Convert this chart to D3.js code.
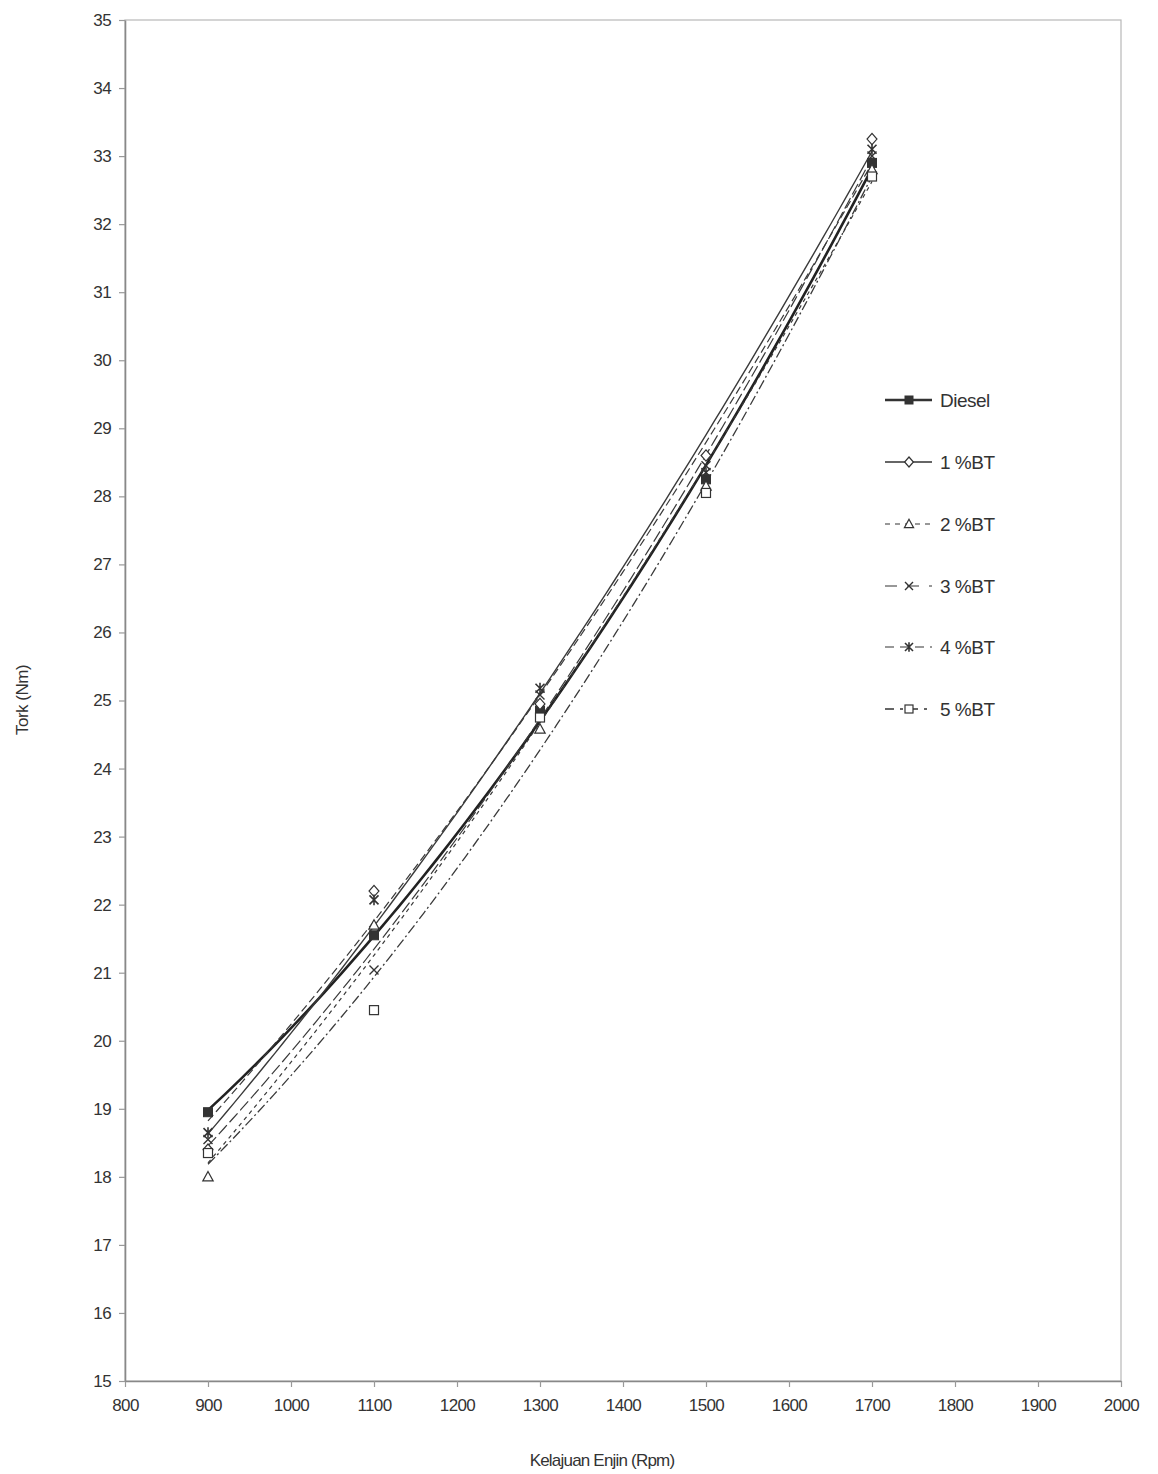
<!DOCTYPE html>
<html>
<head>
<meta charset="utf-8">
<script src="https://cdn.jsdelivr.net/npm/d3@7"></script>
<style>
  html, body { margin: 0; padding: 0; background: #fff; }
  svg { display: block; }
  text { font-family: "Liberation Sans", Arial, sans-serif; fill: #333; }
</style>
</head>
<body>
<svg id="chart" width="1158" height="1474"></svg>
<script>
// ---- data ----
const rpm = [900, 1100, 1300, 1500, 1700];
const seriesNames = ["Diesel", "1 %BT", "2 %BT", "3 %BT", "4 %BT", "5 %BT"];
const diesel = [18.95, 21.55, 24.85, 28.25, 32.9];
const bt1 = [18.4, 22.2, 24.95, 28.6, 33.25];
const bt2 = [18.0, 21.7, 24.58, 28.15, 32.8];
const bt3 = [18.55, 21.04, 25.08, 28.45, 33.0];
const bt4 = [18.65, 22.07, 25.18, 28.35, 33.1];
const bt5 = [18.35, 20.45, 24.75, 28.05, 32.7];
const xTicks = [800, 900, 1000, 1100, 1200, 1300, 1400, 1500, 1600, 1700, 1800, 1900, 2000];
const yTicks = [15, 16, 17, 18, 19, 20, 21, 22, 23, 24, 25, 26, 27, 28, 29, 30, 31, 32, 33, 34, 35];

const seriesValues = [diesel, bt1, bt2, bt3, bt4, bt5];
const styles = [
  { w: 2.6, dash: null, marker: "fsquare" },
  { w: 1.4, dash: null, marker: "diamond" },
  { w: 1.2, dash: "4,4", marker: "triangle" },
  { w: 1.2, dash: "12,4", marker: "x" },
  { w: 1.2, dash: "8,4", marker: "star" },
  { w: 1.3, dash: "10,3,2,3", marker: "square" }
];

const svg = d3.select("#chart");
const m = { left: 125, right: 1121, top: 20, bottom: 1381 };
const x = d3.scaleLinear().domain([800, 2000]).range([m.left, m.right]);
const y = d3.scaleLinear().domain([15, 35]).range([m.bottom, m.top]);

// plot frame
svg.append("rect").attr("x", m.left).attr("y", m.top)
  .attr("width", m.right - m.left).attr("height", m.bottom - m.top)
  .attr("fill", "none").attr("stroke", "#b8b8b8").attr("stroke-width", 1.2);

// axes
const xAxis = svg.append("g").attr("transform", `translate(0,${m.bottom})`)
  .call(d3.axisBottom(x).tickValues(xTicks).tickFormat(d3.format("d")).tickSize(6).tickSizeOuter(0).tickPadding(12));
const yAxis = svg.append("g").attr("transform", `translate(${m.left},0)`)
  .call(d3.axisLeft(y).tickValues(yTicks).tickFormat(d3.format("d")).tickSize(6).tickSizeOuter(0).tickPadding(8));
[xAxis, yAxis].forEach(g => {
  g.select(".domain").attr("stroke", "#888").attr("stroke-width", 1.6);
  g.selectAll(".tick line").attr("stroke", "#999").attr("stroke-width", 1.2);
  g.selectAll(".tick text").style("font-family", "'Liberation Sans', Arial, sans-serif")
    .style("font-size", "17px").attr("fill", "#333").style("letter-spacing", "-0.6px");
});

// quadratic least-squares trendline (like spreadsheet polynomial trendline)
function quadFit(xs, ys) {
  const n = xs.length;
  const xm = d3.mean(xs);
  const u = xs.map(v => (v - xm) / 100);
  let S = [0, 0, 0, 0, 0], T = [0, 0, 0];
  for (let i = 0; i < n; i++) {
    for (let k = 0; k <= 4; k++) S[k] += Math.pow(u[i], k);
    for (let k = 0; k <= 2; k++) T[k] += ys[i] * Math.pow(u[i], k);
  }
  const A = [[S[0], S[1], S[2]], [S[1], S[2], S[3]], [S[2], S[3], S[4]]];
  const b = T.slice();
  for (let c = 0; c < 3; c++) {
    for (let r = c + 1; r < 3; r++) {
      const f = A[r][c] / A[c][c];
      for (let k = c; k < 3; k++) A[r][k] -= f * A[c][k];
      b[r] -= f * b[c];
    }
  }
  const coef = [0, 0, 0];
  for (let r = 2; r >= 0; r--) {
    let s = b[r];
    for (let k = r + 1; k < 3; k++) s -= A[r][k] * coef[k];
    coef[r] = s / A[r][r];
  }
  return xv => { const t = (xv - xm) / 100; return coef[0] + coef[1] * t + coef[2] * t * t; };
}

const line = d3.line().x(d => x(d[0])).y(d => y(d[1])).curve(d3.curveLinear);
const plotG = svg.append("g");
seriesValues.forEach((vals, i) => {
  const f = quadFit(rpm, vals);
  const pts = d3.range(rpm[0], rpm[rpm.length - 1] + 1, 10).map(r => [r, f(r)]);
  plotG.append("path").datum(pts).attr("d", line)
    .attr("fill", "none").attr("stroke", i === 0 ? "#222" : "#3a3a3a")
    .attr("stroke-width", styles[i].w)
    .attr("stroke-dasharray", styles[i].dash);
});

function drawMarker(g, type, cx, cy, s) {
  const col = "#333";
  if (type === "fsquare") {
    g.append("rect").attr("x", cx - s).attr("y", cy - s).attr("width", 2 * s).attr("height", 2 * s)
      .attr("fill", "#333").attr("stroke", col).attr("stroke-width", 1);
  } else if (type === "square") {
    g.append("rect").attr("x", cx - s).attr("y", cy - s).attr("width", 2 * s).attr("height", 2 * s)
      .attr("fill", "#fff").attr("stroke", col).attr("stroke-width", 1.2);
  } else if (type === "diamond") {
    g.append("path").attr("d", `M${cx},${cy - s * 1.25}L${cx + s * 1.1},${cy}L${cx},${cy + s * 1.25}L${cx - s * 1.1},${cy}Z`)
      .attr("fill", "#fff").attr("stroke", col).attr("stroke-width", 1.2);
  } else if (type === "triangle") {
    g.append("path").attr("d", `M${cx},${cy - s * 1.2}L${cx + s * 1.15},${cy + s * 0.9}L${cx - s * 1.15},${cy + s * 0.9}Z`)
      .attr("fill", "#fff").attr("stroke", col).attr("stroke-width", 1.2);
  } else if (type === "x") {
    g.append("path").attr("d", `M${cx - s},${cy - s}L${cx + s},${cy + s}M${cx - s},${cy + s}L${cx + s},${cy - s}`)
      .attr("stroke", col).attr("stroke-width", 1.4);
  } else if (type === "star") {
    g.append("path").attr("d", `M${cx - s},${cy - s}L${cx + s},${cy + s}M${cx - s},${cy + s}L${cx + s},${cy - s}M${cx},${cy - s * 1.2}L${cx},${cy + s * 1.2}`)
      .attr("stroke", col).attr("stroke-width", 1.6);
  }
}

const markG = svg.append("g");
seriesValues.forEach((vals, i) => {
  vals.forEach((v, j) => drawMarker(markG, styles[i].marker, x(rpm[j]), y(v), 4.5));
});

// legend
const lg = svg.append("g");
const legendY = [400, 462, 524, 586, 647, 709];
seriesNames.forEach((name, i) => {
  const ly = legendY[i];
  lg.append("line").attr("x1", 885).attr("x2", 932).attr("y1", ly).attr("y2", ly)
    .attr("stroke", "#333").attr("stroke-width", styles[i].w)
    .attr("stroke-dasharray", styles[i].dash ? (i === 2 ? "5,5" : i === 3 ? "12,10" : i === 4 ? "9,6" : "9,6,3,6") : null);
  drawMarker(lg, styles[i].marker, 909, ly, 4);
  lg.append("text").attr("x", 940).attr("y", ly).attr("dy", "0.35em")
    .style("font-size", "19px").style("letter-spacing", "-0.5px").text(name);
});

// axis titles
svg.append("text").attr("x", 602).attr("y", 1466).attr("text-anchor", "middle")
  .style("font-size", "17px").style("letter-spacing", "-0.8px").text("Kelajuan Enjin (Rpm)");
svg.append("text").attr("transform", "translate(28,700) rotate(-90)").attr("text-anchor", "middle")
  .style("font-size", "17px").style("letter-spacing", "-0.5px").text("Tork (Nm)");
</script>
</body>
</html>
